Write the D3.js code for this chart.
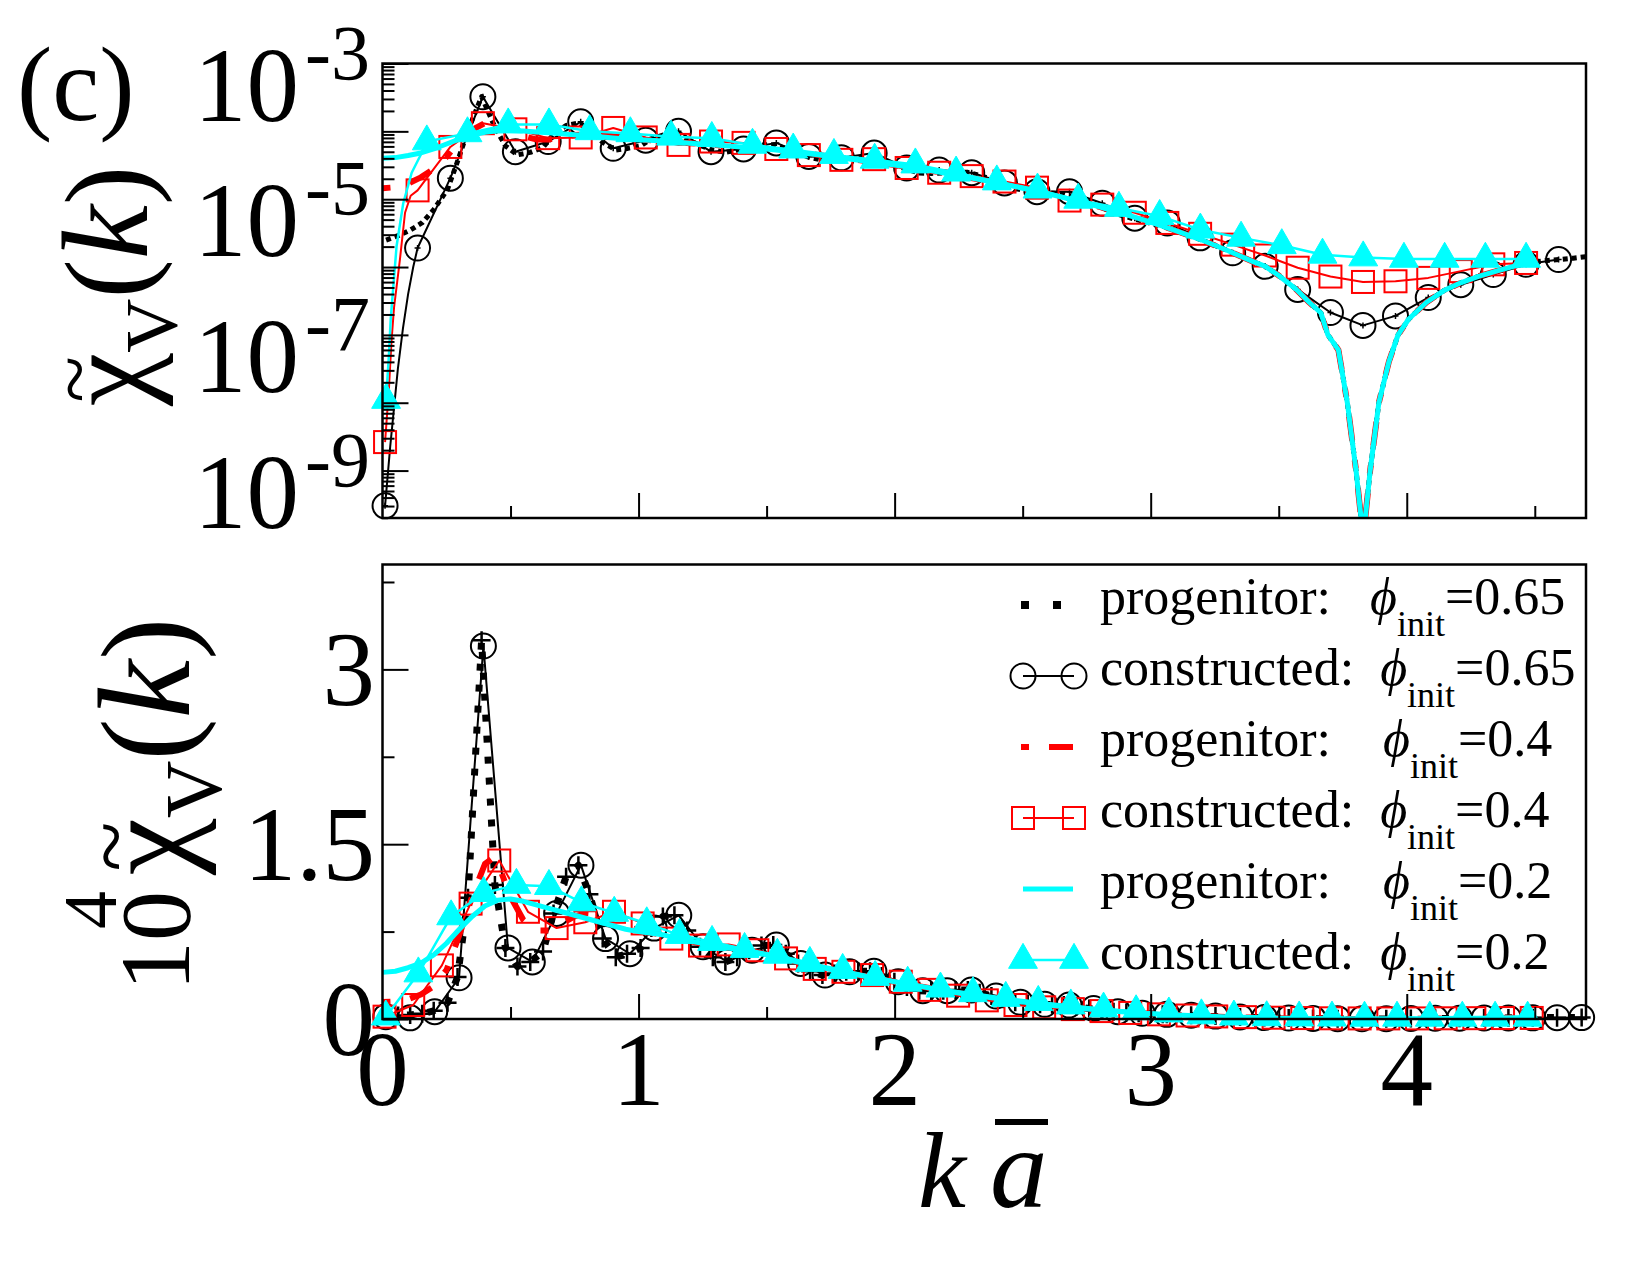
<!DOCTYPE html>
<html>
<head>
<meta charset="utf-8">
<script src="https://cdn.jsdelivr.net/npm/d3@7"></script>
<style>
  body { margin: 0; background: #fff; }
  svg text { font-family: "Liberation Serif", "Times New Roman", serif; fill: #000; }
</style>
</head>
<body>
<svg id="chart" width="1650" height="1275"></svg>
<script>
// ---------- DATA ----------
// progenitor curves, in units of 1e-4 (shared by both panels)
var kP65 = [0.014,0.061,0.108,0.155,0.2,0.254,0.293,0.334,0.387,0.439,0.48,0.527,0.577,0.627,0.668,0.717,0.765,0.808,0.86,0.911,
  0.955,1.008,1.05,1.095,1.14,1.19,1.24,1.29,1.339,1.385,1.432,1.48,1.526,1.575,1.623,1.67,1.718,1.765,1.811,1.858,
  1.904,1.95,1.999,2.048,2.096,2.143,2.19,2.238,2.286,2.332,2.378,2.425,2.471,2.52,2.568,2.615,2.661,2.71,2.76,2.808,
  2.855,2.905,2.953,3.0,3.047];
var p65 = [0.025,0.029,0.035,0.045,0.07,0.14,0.36,1.04,3.25,1.15,0.61,0.45,0.49,0.58,0.906,1.22,1.32,1.07,0.69,0.53,
  0.56,0.61,0.78,0.88,0.89,0.76,0.62,0.53,0.49,0.53,0.59,0.63,0.634,0.56,0.477,0.41,0.377,0.39,0.405,0.41,
  0.41,0.37,0.32,0.275,0.243,0.24,0.243,0.248,0.249,0.225,0.197,0.17,0.143,0.132,0.126,0.123,0.12,0.105,0.09,0.075,
  0.063,0.055,0.049,0.044,0.04];
var kP65End = [4.54,4.597,4.65,4.7];
var p65End = [0.0124,0.0129,0.0135,0.0142];

var kP40 = [0,0.05,0.1,0.15,0.2,0.25,0.3,0.35,0.4,0.43,0.46,0.5,0.55,0.6,0.65,0.7,0.75,0.8,0.85,0.9,0.95,1.0,1.05];
var p40 = [0.145,0.15,0.17,0.21,0.28,0.42,0.72,1.05,1.33,1.38,1.28,1.05,0.85,0.76,0.76,0.82,0.88,0.91,0.90,0.85,0.80,0.76,0.74];

var kP20 = [0,0.05,0.1,0.15,0.2,0.25,0.3,0.35,0.4,0.45,0.5,0.55,0.6,0.65,0.7,0.75,0.8,0.85,0.9,0.95,1.0];
var p20 = [0.40,0.41,0.44,0.48,0.55,0.65,0.77,0.88,0.97,1.02,1.03,1.01,0.98,0.95,0.92,0.89,0.86,0.83,0.80,0.77,0.75];

// common high-k part of the progenitors (with the dip near k=3.83)
var kTail = [1.1,1.2,1.3,1.4,1.5,1.6,1.7,1.8,1.9,2.0,2.1,2.2,2.3,2.4,2.5,2.6,2.7,2.8,2.9,3.0,3.1,3.2,3.3,3.4,
  3.446,3.5,3.568,3.62,3.665,3.692,3.733,3.768,3.802,3.83,3.857,3.891,3.93,3.966,4.007,4.076,4.145,4.213,4.28,4.35,4.42,4.486];
var tail = [0.72,0.67,0.63,0.59,0.55,0.50,0.45,0.40,0.36,0.32,0.28,0.24,0.205,0.175,0.145,0.12,0.097,0.077,0.06,0.046,0.034,0.025,0.0175,0.012,
  0.0103,0.0075,0.0047,0.003,0.0021,0.001,0.0006,0.0001,0.00001,0.000001,0.00001,0.0001,0.0004,0.001,0.0017,0.003,0.0045,0.0059,0.0073,0.0087,0.0103,0.0118];

// top panel (log), constructed, values are log10
var kTopC65 = [0.010,0.137,0.265,0.392,0.519,0.647,0.774,0.901,1.028,1.156,1.283,1.410,1.538,1.665,1.792,1.920,2.047,2.174,2.301,2.429,
  2.556,2.683,2.811,2.938,3.065,3.193,3.320,3.447,3.574,3.702,3.829,3.956,4.084,4.211,4.338,4.466,4.593];
var topC65 = [-9.52,-5.72,-4.69,-3.49,-4.30,-4.15,-3.86,-4.25,-4.13,-4.00,-4.30,-4.26,-4.17,-4.37,-4.39,-4.32,-4.54,-4.57,-4.61,-4.76,
  -4.89,-4.89,-5.06,-5.28,-5.35,-5.57,-5.79,-5.99,-6.33,-6.67,-6.86,-6.72,-6.45,-6.26,-6.11,-5.96,-5.89];
var kTopC40 = [0.010,0.137,0.265,0.392,0.519,0.647,0.774,0.901,1.028,1.156,1.283,1.410,1.538,1.665,1.792,1.920,2.047,2.174,2.301,2.429,
  2.556,2.683,2.811,2.938,3.065,3.193,3.320,3.447,3.574,3.702,3.829,3.956,4.084,4.211,4.338,4.466];
var topC40 = [-8.58,-4.87,-4.23,-3.88,-3.97,-4.10,-4.09,-3.95,-4.09,-4.20,-4.15,-4.17,-4.26,-4.35,-4.42,-4.41,-4.54,-4.61,-4.66,-4.74,
  -4.83,-5.02,-5.08,-5.20,-5.35,-5.51,-5.67,-5.83,-6.01,-6.14,-6.22,-6.21,-6.16,-6.06,-5.96,-5.94];
var kTopC20 = [0.014,0.173,0.332,0.491,0.650,0.809,0.968,1.127,1.286,1.445,1.604,1.763,1.922,2.081,2.240,2.399,2.558,2.717,2.876,3.035,
  3.194,3.353,3.512,3.671,3.830,3.989,4.148,4.307,4.466];
var topC20 = [-7.96,-4.15,-4.03,-3.90,-3.90,-4.00,-4.03,-4.08,-4.10,-4.20,-4.27,-4.35,-4.42,-4.49,-4.61,-4.74,-4.86,-5.01,-5.13,-5.25,
  -5.45,-5.57,-5.68,-5.82,-5.86,-5.88,-5.88,-5.88,-5.88];
// extra line points of the constructed sets near k=0 (no symbol drawn there)
var kLead65 = [0.03,0.06,0.08,0.1,0.12];
var lead65 = [-8.65,-7.5,-6.9,-6.4,-6.0];
var kLead40 = [0.025,0.035,0.045,0.068,0.088,0.11];
var lead40 = [-7.8,-7.1,-6.6,-5.89,-5.2,-4.95];
var kLead20 = [0.025,0.032,0.055,0.081,0.114,0.146];
var lead20 = [-7.3,-6.77,-5.69,-5.06,-4.61,-4.37];

// bottom panel (linear, units of 1e-4), constructed
var kBotC65 = [0.013,0.108,0.204,0.299,0.394,0.490,0.585,0.680,0.775,0.871,0.966,1.061,1.157,1.252,1.347,1.443,1.538,1.633,1.728,1.824,
  1.919,2.014,2.110,2.205,2.300,2.396,2.491,2.586,2.681,2.777,2.872,2.967,3.063,3.158,3.253,3.349,3.444,3.539,3.634,3.730,
  3.825,3.920,4.016,4.111,4.206,4.302,4.397,4.492,4.587,4.683];
var botC65 = [0.02,0.01,0.063,0.354,3.2,0.61,0.49,0.906,1.32,0.69,0.56,0.78,0.89,0.62,0.49,0.59,0.634,0.477,0.377,0.405,
  0.41,0.32,0.243,0.243,0.249,0.197,0.143,0.126,0.12,0.09,0.063,0.049,0.04,0.032,0.025,0.018,0.012,0.008,0.005,0.003,
  0.002,0.003,0.004,0.006,0.007,0.008,0.009,0.01,0.011,0.012];
var kBotC40 = [0.008,0.12,0.232,0.344,0.456,0.568,0.68,0.792,0.904,1.016,1.128,1.24,1.352,1.464,1.576,1.688,1.8,1.912,2.024,2.136,
  2.248,2.36,2.472,2.584,2.696,2.808,2.92,3.032,3.144,3.256,3.368,3.48,3.592,3.704,3.816,3.928,4.04,4.152,4.264,4.376,4.488];
var botC40 = [0.02,0.12,0.46,0.99,1.36,0.92,0.78,0.83,0.92,0.82,0.69,0.63,0.64,0.59,0.52,0.43,0.405,0.377,0.32,0.25,
  0.20,0.16,0.12,0.10,0.085,0.068,0.052,0.04,0.03,0.022,0.016,0.011,0.008,0.006,0.005,0.005,0.005,0.006,0.007,0.008,0.009];
var kBotC20 = [0.013,0.140,0.268,0.395,0.523,0.650,0.777,0.905,1.032,1.160,1.287,1.414,1.542,1.669,1.797,1.924,2.051,2.179,2.306,2.434,
  2.561,2.688,2.816,2.943,3.071,3.198,3.325,3.453,3.580,3.708,3.835,3.962,4.090,4.217,4.345,4.472];
var botC20 = [0.02,0.39,0.88,1.08,1.15,1.14,1.0,0.91,0.82,0.72,0.66,0.60,0.55,0.48,0.42,0.36,0.31,0.26,0.22,0.18,
  0.145,0.115,0.088,0.065,0.046,0.03,0.02,0.014,0.012,0.011,0.01,0.01,0.01,0.01,0.01,0.01];

// ticks and labels
var xMajor = [1, 2, 3, 4];
var xMinor = [0.5, 1.5, 2.5, 3.5, 4.5];
var xLabels = [0, 1, 2, 3, 4];
var logMajor = [1e-9, 1e-8, 1e-7, 1e-6, 1e-5, 1e-4, 1e-3];
var logLabelExp = [-3, -5, -7, -9];
var botMajor = [0, 1.5, 3];
var botMinor = [0.75, 2.25, 3.75];
var botLabels = ["0", "1.5", "3"];

var legendNames = ["progenitor:   ", "constructed:  ", "progenitor:    ", "constructed:  ", "progenitor:    ", "constructed:  "];
var legendPhi = ["0.65", "0.65", "0.4", "0.4", "0.2", "0.2"];

// ---------- SETUP ----------
var svg = d3.select("#chart");
svg.append("rect").attr("width", 1650).attr("height", 1275).attr("fill", "#fff");

var x = d3.scaleLinear().domain([0, 4.7]).range([382.5, 1586]);
var yTop = d3.scaleLog().domain([2e-10, 1e-3]).range([518, 63.5]);
var yBot = d3.scaleLinear().domain([0, 3.9]).range([1019, 564.5]);

function zip(ks, vs) { return ks.map(function(k, i) { return [k, vs[i]]; }); }

var prog65 = zip(kP65, p65).concat(zip(kTail, tail).filter(function(d) { return d[0] > 3.05; }), zip(kP65End, p65End));
var prog40 = zip(kP40, p40).concat(zip(kTail, tail));
var prog20 = zip(kP20, p20).concat(zip(kTail, tail));

var RED = "#ff0000", CYAN = "#00ffff";

var defs = svg.append("defs");
defs.append("clipPath").attr("id", "clipTop").append("rect")
  .attr("x", x(0)).attr("y", yTop(1e-3)).attr("width", x(4.7) - x(0)).attr("height", yTop(2e-10) - yTop(1e-3));
defs.append("clipPath").attr("id", "clipBot").append("rect")
  .attr("x", x(0)).attr("y", yBot(3.9)).attr("width", x(4.7) - x(0)).attr("height", yBot(0) - yBot(3.9));

// ---------- helpers ----------
function drawLine(g, data, yf, stroke, width, dash, clip) {
  var line = d3.line().x(function(d) { return x(d[0]); }).y(function(d) { return yf(d[1]); });
  var p = g.append("path").datum(data).attr("d", line)
    .attr("fill", "none").attr("stroke", stroke).attr("stroke-width", width)
    .attr("stroke-linejoin", "round");
  if (dash) p.attr("stroke-dasharray", dash);
  if (clip) p.attr("clip-path", "url(#" + clip + ")");
  return p;
}
function circles(g, data, yf) {
  g.selectAll(null).data(data).enter().append("circle")
    .attr("cx", function(d) { return x(d[0]); }).attr("cy", function(d) { return yf(d[1]); })
    .attr("r", 12.5).attr("fill", "none").attr("stroke", "#000").attr("stroke-width", 2);
}
function squares(g, data, yf) {
  g.selectAll(null).data(data).enter().append("rect")
    .attr("x", function(d) { return x(d[0]) - 11; }).attr("y", function(d) { return yf(d[1]) - 11; })
    .attr("width", 22).attr("height", 22).attr("fill", "none").attr("stroke", RED).attr("stroke-width", 2);
}
var tri = d3.symbol().type(d3.symbolTriangle).size(360);
function triangles(g, data, yf) {
  g.selectAll(null).data(data).enter().append("path")
    .attr("d", tri)
    .attr("transform", function(d) { return "translate(" + x(d[0]) + "," + yf(d[1]) + ")"; })
    .attr("fill", CYAN).attr("stroke", CYAN).attr("stroke-width", 1);
}
function pluses(g, data, yf, arm, w) {
  g.selectAll(null).data(data).enter().append("path")
    .attr("d", function(d) {
      var cx = x(d[0]), cy = yf(d[1]);
      return "M" + (cx - arm) + "," + cy + "H" + (cx + arm) + "M" + cx + "," + (cy - arm) + "V" + (cy + arm);
    })
    .attr("stroke", "#000").attr("stroke-width", w).attr("fill", "none");
}

// ---------- TOP PANEL (log) ----------
var gTop = svg.append("g");
var yAbs = function(v) { return yTop(v * 1e-4); };   // progenitors stored in 1e-4 units
var yExp = function(v) { return yTop(Math.pow(10, v)); };

var c65 = zip(kTopC65, topC65), c40 = zip(kTopC40, topC40), c20 = zip(kTopC20, topC20);

drawLine(gTop, prog65, yAbs, "#000", 5, "5,4", "clipTop");
drawLine(gTop, [c65[0]].concat(zip(kLead65, lead65), c65.slice(1)), yExp, "#000", 2, null, "clipTop");
circles(gTop, c65, yExp);
pluses(gTop, c65, yExp, 3, 1.5);
drawLine(gTop, prog40, yAbs, RED, 6, "8,20,24,20", "clipTop");
drawLine(gTop, [c40[0]].concat(zip(kLead40, lead40), c40.slice(1)), yExp, RED, 2, null, "clipTop");
squares(gTop, c40, yExp);
drawLine(gTop, prog20, yAbs, CYAN, 5, null, "clipTop");
drawLine(gTop, [c20[0]].concat(zip(kLead20, lead20), c20.slice(1)), yExp, CYAN, 2.5, null, "clipTop");
triangles(gTop, c20, yExp);

// frame + ticks
function frame(y0, y1) {
  svg.append("rect").attr("x", x(0)).attr("y", y0).attr("width", x(4.7) - x(0)).attr("height", y1 - y0)
    .attr("fill", "none").attr("stroke", "#000").attr("stroke-width", 2.5);
}
function axisTicks(axis, tr) {
  var g = svg.append("g").attr("transform", tr).call(axis);
  g.select(".domain").remove();
  g.selectAll("line").attr("stroke", "#000").attr("stroke-width", 2);
  g.selectAll("text").remove();
}
frame(yTop(1e-3), yTop(2e-10));
var logMinor = [];
[-10, -9, -8, -7, -6, -5, -4].forEach(function(e) {
  for (var m = 2; m <= 9; m++) {
    var v = m * Math.pow(10, e);
    if (v > 2e-10 && v < 1e-3) logMinor.push(v);
  }
});
axisTicks(d3.axisRight(yTop).tickValues(logMajor).tickSize(26).tickFormat(""), "translate(" + x(0) + ",0)");
axisTicks(d3.axisRight(yTop).tickValues(logMinor).tickSize(12).tickFormat(""), "translate(" + x(0) + ",0)");
axisTicks(d3.axisTop(x).tickValues(xMajor).tickSize(25).tickFormat(""), "translate(0," + yTop(2e-10) + ")");
axisTicks(d3.axisTop(x).tickValues(xMinor).tickSize(12).tickFormat(""), "translate(0," + yTop(2e-10) + ")");

// log tick labels 10^-n
logLabelExp.forEach(function(e) {
  var ty = yTop(Math.pow(10, e));
  var t = svg.append("text").attr("x", 370).attr("y", ty + 57).attr("text-anchor", "end");
  t.append("tspan").attr("font-size", 105).text("10");
  t.append("tspan").attr("font-size", 78).attr("dx", 6).attr("dy", -42).text("-" + (-e));
});

// ---------- BOTTOM PANEL (linear) ----------
var gBot = svg.append("g");
var b65 = zip(kBotC65, botC65), b40 = zip(kBotC40, botC40), b20 = zip(kBotC20, botC20);

drawLine(gBot, prog65, yBot, "#000", 7, "7,14", "clipBot");
drawLine(gBot, b65, yBot, "#000", 2, null, "clipBot");
circles(gBot, b65, yBot);
pluses(gBot, zip(kP65, p65).concat(b65.filter(function(d) { return d[0] > 3.05; })), yBot, 9, 2.5);
drawLine(gBot, prog40, yBot, RED, 6, "8,20,24,20", "clipBot");
drawLine(gBot, b40, yBot, RED, 2, null, "clipBot");
squares(gBot, b40, yBot);
drawLine(gBot, prog20, yBot, CYAN, 5, null, "clipBot");
drawLine(gBot, b20, yBot, CYAN, 2.5, null, "clipBot");
triangles(gBot, b20, yBot);

frame(yBot(3.9), yBot(0));
axisTicks(d3.axisRight(yBot).tickValues(botMajor).tickSize(26).tickFormat(""), "translate(" + x(0) + ",0)");
axisTicks(d3.axisRight(yBot).tickValues(botMinor).tickSize(12).tickFormat(""), "translate(" + x(0) + ",0)");
axisTicks(d3.axisTop(x).tickValues(xMajor).tickSize(25).tickFormat(""), "translate(0," + yBot(0) + ")");
axisTicks(d3.axisTop(x).tickValues(xMinor).tickSize(12).tickFormat(""), "translate(0," + yBot(0) + ")");

botMajor.forEach(function(v, i) {
  svg.append("text").attr("x", 375).attr("y", yBot(v) + 36).attr("text-anchor", "end")
    .attr("font-size", 105).text(botLabels[i]);
});
xLabels.forEach(function(v) {
  svg.append("text").attr("x", x(v)).attr("y", 1105).attr("text-anchor", "middle")
    .attr("font-size", 105).text(v);
});

// ---------- LEGEND ----------
var rowY = [605, 676, 747, 818, 889, 960];
var leg = svg.append("g");
var px = function(v) { return v; };
var symAt = function(sx, sy) { return [x.invert(sx), sy]; };
leg.append("line").attr("x1", 1021).attr("x2", 1061).attr("y1", rowY[0]).attr("y2", rowY[0])
  .attr("stroke", "#000").attr("stroke-width", 8).attr("stroke-dasharray", "8,24");
leg.append("line").attr("x1", 1023).attr("x2", 1074).attr("y1", rowY[1]).attr("y2", rowY[1])
  .attr("stroke", "#000").attr("stroke-width", 2);
circles(leg, [symAt(1023, rowY[1]), symAt(1074, rowY[1])], px);
leg.append("line").attr("x1", 1021).attr("x2", 1073).attr("y1", rowY[2]).attr("y2", rowY[2])
  .attr("stroke", RED).attr("stroke-width", 6).attr("stroke-dasharray", "8,20,24,20");
leg.append("line").attr("x1", 1023).attr("x2", 1074).attr("y1", rowY[3]).attr("y2", rowY[3])
  .attr("stroke", RED).attr("stroke-width", 2);
squares(leg, [symAt(1023, rowY[3]), symAt(1074, rowY[3])], px);
leg.append("line").attr("x1", 1023).attr("x2", 1073).attr("y1", rowY[4]).attr("y2", rowY[4])
  .attr("stroke", CYAN).attr("stroke-width", 5);
leg.append("line").attr("x1", 1023).attr("x2", 1074).attr("y1", rowY[5]).attr("y2", rowY[5])
  .attr("stroke", CYAN).attr("stroke-width", 2.5);
triangles(leg, [symAt(1023, rowY[5]), symAt(1074, rowY[5])], px);

legendNames.forEach(function(nm, i) {
  var t = leg.append("text").attr("x", 1100).attr("y", rowY[i] + 9)
    .attr("font-size", 52).attr("xml:space", "preserve").style("white-space", "pre");
  t.append("tspan").text(nm);
  t.append("tspan").attr("font-style", "italic").text("\u03D5");
  t.append("tspan").attr("font-size", 36).attr("dy", 22).text("init");
  t.append("tspan").attr("dy", -22).text("=" + legendPhi[i]);
});

// ---------- TITLES ----------
svg.append("text").attr("x", 17).attr("y", 120).attr("font-size", 106).text("(c)");

svg.append("text").attr("x", 918).attr("y", 1207).attr("font-size", 108).attr("font-style", "italic").text("k");
svg.append("text").attr("x", 990).attr("y", 1207).attr("font-size", 115).attr("font-style", "italic").text("a");
svg.append("line").attr("x1", 995).attr("x2", 1048).attr("y1", 1122).attr("y2", 1122)
  .attr("stroke", "#000").attr("stroke-width", 6);

// rotated y titles built piece by piece (each piece measured, then the next one placed after it)
function yTitle(tx, ty, pieces) {
  var g = svg.append("g").attr("transform", "translate(" + tx + "," + ty + ") rotate(-90)");
  var cx = 0;
  pieces.forEach(function(p) {
    if (p.at !== undefined) cx = p.at;
    var t = g.append("text").attr("x", cx).attr("y", p.shift || 0).attr("font-size", p.size).text(p.s);
    if (p.italic) t.attr("font-style", "italic");
    var w = t.node().getComputedTextLength();
    if (p.tilde) {
      g.append("text").attr("x", cx + w / 2).attr("y", -0.37 * p.size)
        .attr("text-anchor", "middle").attr("font-size", 0.72 * p.size).text("~");
    }
    cx += w;
  });
}
yTitle(147, 406, [
  { s: "\u03C7", size: 120, tilde: true },
  { s: "V", size: 75, shift: 30 },
  { s: "(", size: 118 },
  { s: "k", size: 122, italic: true },
  { s: ")", size: 118 }
]);
yTitle(189, 981, [
  { s: "10", size: 100, at: -10 },
  { s: "4", size: 76, shift: -73, at: 52 },
  { s: "\u03C7", size: 128, at: 106, tilde: true },
  { s: "V", size: 80, shift: 32 },
  { s: "(", size: 126 },
  { s: "k", size: 132, italic: true },
  { s: ")", size: 126 }
]);
</script>
</body>
</html>
